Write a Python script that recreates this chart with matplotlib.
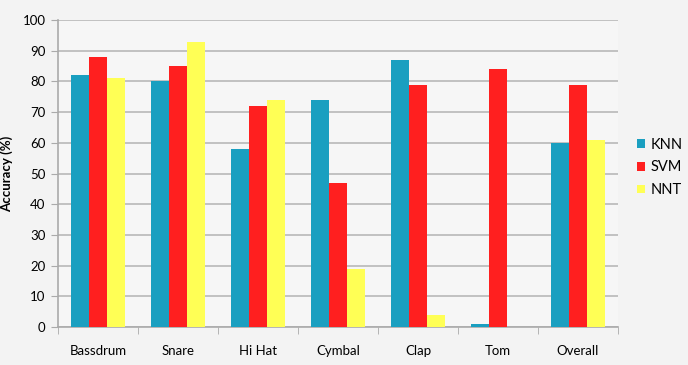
import numpy as np
import matplotlib.pyplot as plt

categories = ['Bassdrum', 'Snare', 'Hi Hat', 'Cymbal', 'Clap', 'Tom', 'Overall']
knn = [82, 80, 58, 74, 87, 1, 60]
svm = [88, 85, 72, 47, 79, 84, 79]
nnt = [81, 93, 74, 19, 4, 0, 61]
series = ['KNN', 'SVM', 'NNT']
colors = ['#1a9fc0', '#ff1f1f', '#ffff55']

plt.rcParams['font.family'] = ['Lato', 'DejaVu Sans']

fig = plt.figure(figsize=(6.88, 3.65), dpi=100)
fig.patch.set_facecolor('#f3f3f3')
ax = fig.add_axes([0.0843, 0.104, 0.814, 0.841])
ax.set_facecolor('#f6f6f6')

x = np.arange(len(categories))
w = 0.225
for i, (vals, name, c) in enumerate(zip([knn, svm, nnt], series, colors)):
    ax.bar(x + (i - 1) * w, vals, w, color=c, label=name, zorder=3)

ax.set_xlim(-0.5, len(categories) - 0.5)
ax.set_ylim(0, 100)
ax.set_yticks(range(0, 101, 10))
ax.yaxis.grid(True, color='#b8b8b8', linewidth=1.2, zorder=0)
ax.set_xticks(x)
ax.set_xticklabels(categories, fontsize=9.5)
ax.set_xticks(np.arange(-0.5, len(categories), 1), minor=True)
ax.tick_params(axis='x', which='major', length=0, pad=13)
ax.tick_params(axis='x', which='minor', length=5, color='#aaaaaa', direction='out')
ax.tick_params(axis='y', length=5, color='#aaaaaa', labelsize=9.5, pad=4)
for s in ['top', 'right']:
    ax.spines[s].set_visible(False)
for s in ['left', 'bottom']:
    ax.spines[s].set_color('#aaaaaa')
    ax.spines[s].set_linewidth(1.2)

ax.set_ylabel('Accuracy (%)', fontsize=9.5, fontweight='bold', labelpad=7)

ax.legend(loc='center left', bbox_to_anchor=(1.01, 0.52), frameon=False,
          fontsize=10.5, handlelength=0.55, handleheight=0.55, handletextpad=0.4,
          labelspacing=0.6)

fig.savefig('out.png', dpi=100, facecolor=fig.get_facecolor())
